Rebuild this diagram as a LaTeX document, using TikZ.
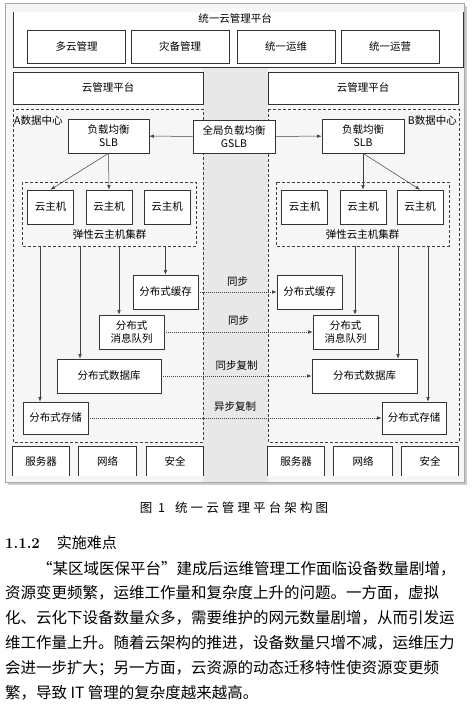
\documentclass[tikz,border=0pt]{standalone}
\usepackage{fontspec}
\newfontfamily\hei{Noto Sans CJK SC}
\newfontfamily\capfont[LetterSpace=25]{Noto Sans CJK SC}
\usetikzlibrary{arrows.meta}
\XeTeXlinebreaklocale "zh"
\XeTeXlinebreakskip=0pt plus 4pt
\newcommand{\jline}[2][462pt]{\makebox[#1][s]{\hei\fontsize{15.5}{18}\selectfont #2}}
\begin{document}
\begin{tikzpicture}[x=1pt,y=-1pt,
		box/.style={draw=black!80, fill=white, line width=0.7pt, inner sep=0pt, align=center, font=\hei\fontsize{10.5}{13}\selectfont},
		dc/.style={draw=black!75, line width=0.7pt, dash pattern=on 3pt off 2pt},
		link/.style={draw=black!75, line width=0.5pt, -{Latex[length=4.5pt,width=3.5pt]}},
		sync/.style={link, dash pattern=on 1pt off 1pt},
		lbl/.style={font=\hei\fontsize{10.5}{13}\selectfont, inner sep=1pt}]
		\useasboundingbox (0,0) rectangle (474,709);

		% cornice
		\fill[gray!40] (8,6) rectangle (467,485);
		\filldraw[fill=gray!7, draw=gray!70, line width=0.6pt] (5,3) rectangle (464,482);
		\fill[gray!18] (203,67) rectangle (268,482);

		% piattaforma unica
		\fill[white] (13,12) rectangle (463,67);
		\draw[line width=0.7pt, black!80] (13,12) -- (13,67) -- (463,67) -- (463,12);
		\node[lbl] (top) at (235,19) {统一云管理平台};
		\foreach \name/\cx/\tx in {multi/76.5/多云管理, backup/180/灾备管理, ops/286/统一运维, oper/390/统一运营}
			\node[box, minimum width=98pt, minimum height=33pt] (\name) at (\cx,46.5) {\tx};

		\node[box, minimum width=190pt, minimum height=32pt] (cmpA) at (108,88) {云管理平台};
		\node[box, minimum width=190pt, minimum height=32pt] (cmpB) at (363,88) {云管理平台};

		% data center
		\draw[dc] (13,109) rectangle (203,442);
		\draw[dc] (268,109) rectangle (459,442);
		\node[lbl, anchor=west] (dcA) at (13,121) {A数据中心};
		\node[lbl, anchor=east] (dcB) at (458,121) {B数据中心};

		% bilanciamento
		\node[box, minimum width=81pt, minimum height=34pt] (slbA) at (108.5,136) {负载均衡\\SLB};
		\node[box, minimum width=82pt, minimum height=33pt] (gslb) at (234,136.5) {全局负载均衡\\GSLB};
		\node[box, minimum width=82pt, minimum height=34pt] (slbB) at (363,136) {负载均衡\\SLB};
		\draw[link] (gslb) -- (slbA);
		\draw[link] (gslb) -- (slbB);

		% cluster
		\draw[dc] (22,182) rectangle (196,246);
		\draw[dc] (276,182) rectangle (449,246);
		\node[lbl] (clA) at (109.5,235) {弹性云主机集群};
		\node[lbl] (clB) at (362.5,235) {弹性云主机集群};
		\foreach \i/\cx in {1/50.5, 2/109, 3/167}
			\node[box, minimum width=46pt, minimum height=34pt] (hostA\i) at (\cx,207) {云主机};
		\foreach \i/\cx in {1/304.5, 2/363, 3/420}
			\node[box, minimum width=46pt, minimum height=34pt] (hostB\i) at (\cx,207) {云主机};
		\draw[link] (slbA.south) -- (hostA1.north);
		\draw[link] (slbA.south) -- (hostA2.north);
		\draw[link] (slbB.south) -- (hostB2.north);
		\draw[link] (slbB.south) -- (hostB3.north);

		% servizi distribuiti
		\node[box, minimum width=65pt, minimum height=34pt] (cacheA) at (165.5,292) {分布式缓存};
		\node[box, minimum width=65pt, minimum height=34pt] (mqA) at (131.5,332) {分布式\\消息队列};
		\node[box, minimum width=104pt, minimum height=34pt] (dbA) at (109,376) {分布式数据库};
		\node[box, minimum width=65pt, minimum height=32pt] (storA) at (55.5,418) {分布式存储};
		\node[box, minimum width=65pt, minimum height=34pt] (cacheB) at (309.5,292) {分布式缓存};
		\node[box, minimum width=65pt, minimum height=34pt] (mqB) at (345.5,332) {分布式\\消息队列};
		\node[box, minimum width=105pt, minimum height=34pt] (dbB) at (364.5,376) {分布式数据库};
		\node[box, minimum width=64pt, minimum height=32pt] (storB) at (414,418) {分布式存储};

		\coordinate (a1) at (40,246);
		\coordinate (a2) at (80,246);
		\coordinate (a3) at (119,246);
		\coordinate (a4) at (165.5,246);
		\coordinate (b1) at (355,246);
		\coordinate (b2) at (398,246);
		\coordinate (b3) at (428,246);
		\draw[link] (a4) -- (a4 |- cacheA.north);
		\draw[link] (a3) -- (a3 |- mqA.north);
		\draw[link] (a2) -- (a2 |- dbA.north);
		\draw[link] (a1) -- (a1 |- storA.north);
		\draw[link] (b1) -- (b1 |- mqB.north);
		\draw[link] (b2) -- (b2 |- dbB.north);
		\draw[link] (b3) -- (b3 |- storB.north);

		% sincronizzazione
		\draw[sync] (cacheA) -- (cacheB) node[lbl, midway, above=4pt] {同步};
		\draw[sync] (mqA) -- (mqB) node[lbl, midway, above=5pt] {同步};
		\draw[sync] (dbA) -- (dbB) node[lbl, midway, above=4pt] {同步复制};
		\draw[sync] (storA) -- (storB) node[lbl, midway, above=5pt] {异步复制};

		% risorse
		\foreach \name/\cx/\w/\tx in {srvA/41/56/服务器, netA/107.5/57/网络, secA/175/56/安全, srvB/296/56/服务器, netB/363/58/网络, secB/430/56/安全}{
			\node[lbl, fill=white, minimum width=\w pt, minimum height=29pt] (\name) at (\cx,461.5) {\tx};
			\draw[line width=0.7pt, black!80] (\name.south west) |- (\name.north east) -- (\name.south east);
		}

		% didascalia e testo
		\node[font=\capfont\fontsize{12.5}{15}\selectfont] (cap) at (234,508) {图 1\hspace{10pt}统一云管理平台架构图};
		\node[anchor=west, inner sep=0pt] (sec) at (5,543) {\fontsize{15}{18}\selectfont\bfseries 1.1.2\hspace{17pt}{\hei\mdseries 实施难点}};
		\node[anchor=west, inner sep=0pt] (p1) at (37,569) {\jline[430pt]{“某区域医保平台”建成后运维管理工作面临设备数量剧增，}};
		\node[anchor=west, inner sep=0pt] (p2) at (5,593) {\jline{资源变更频繁，运维工作量和复杂度上升的问题。一方面，虚拟}};
		\node[anchor=west, inner sep=0pt] (p3) at (5,618) {\jline{化、云化下设备数量众多，需要维护的网元数量剧增，从而引发运}};
		\node[anchor=west, inner sep=0pt] (p4) at (5,643) {\jline{维工作量上升。随着云架构的推进，设备数量只增不减，运维压力}};
		\node[anchor=west, inner sep=0pt] (p5) at (5,668) {\jline{会进一步扩大；另一方面，云资源的动态迁移特性使资源变更频}};
		\node[anchor=west, inner sep=0pt, font=\hei\fontsize{15.5}{18}\selectfont] (p6) at (5,693) {繁，导致 IT 管理的复杂度越来越高。};
	\end{tikzpicture}
\end{document}
